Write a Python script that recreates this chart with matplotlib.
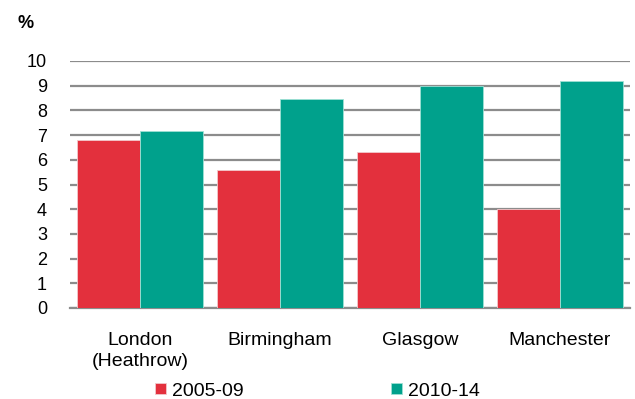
import matplotlib.pyplot as plt
import numpy as np

plt.rcParams['font.family'] = ['Liberation Sans', 'DejaVu Sans']

# Share of flights delayed, by airport and period
airports = ["London\n(Heathrow)", "Birmingham", "Glasgow", "Manchester"]
periods = ["2005-09", "2010-14"]
vals_2005_09 = [6.8, 5.6, 6.3, 4.0]
vals_2010_14 = [7.15, 8.45, 9.0, 9.2]
yticks = list(range(0, 11))

red = "#E3303D"
teal = "#00A18C"

fig = plt.figure(figsize=(6.35, 3.99), dpi=100)
ax = fig.add_axes([70 / 635, 1 - 308 / 399, 560 / 635, (308 - 61) / 399])

x = np.arange(len(airports))
w = 0.45
ax.bar(x - w / 2, vals_2005_09, width=w, color=red, edgecolor="#f2c9cc",
       linewidth=0.6, label=periods[0], zorder=3)
ax.bar(x + w / 2, vals_2010_14, width=w, color=teal, edgecolor="#9ee0d4",
       linewidth=0.6, label=periods[1], zorder=3)

ax.set_xlim(-0.5, 3.5)
ax.set_ylim(0, 10)
ax.set_yticks(yticks)
ax.set_yticklabels([str(t) for t in yticks], fontsize=13)
ax.yaxis.grid(True, color="#8c8c8c", linewidth=1.6, zorder=0)
ax.set_axisbelow(True)
for s in ["top", "right", "left"]:
    ax.spines[s].set_visible(False)
ax.spines["bottom"].set_color("#8c8c8c")
ax.spines["bottom"].set_linewidth(1.6)
ax.tick_params(axis="y", length=0, pad=16.5)
ax.tick_params(axis="x", length=0, pad=17)
ax.set_xticks(x)
ax.set_xticklabels(airports, fontsize=14, linespacing=1.3)

fig.text(17 / 635, 1 - 23 / 399, "%", fontsize=13, fontweight="bold",
         va="center", ha="left")

fig.legend(loc="center", bbox_to_anchor=(0.5, 1 - 391 / 399), ncol=2,
           frameon=False, fontsize=14, handlelength=0.55, handleheight=0.55,
           handletextpad=0.3, columnspacing=7.6, borderpad=0)

fig.savefig("out.png", dpi=100)
